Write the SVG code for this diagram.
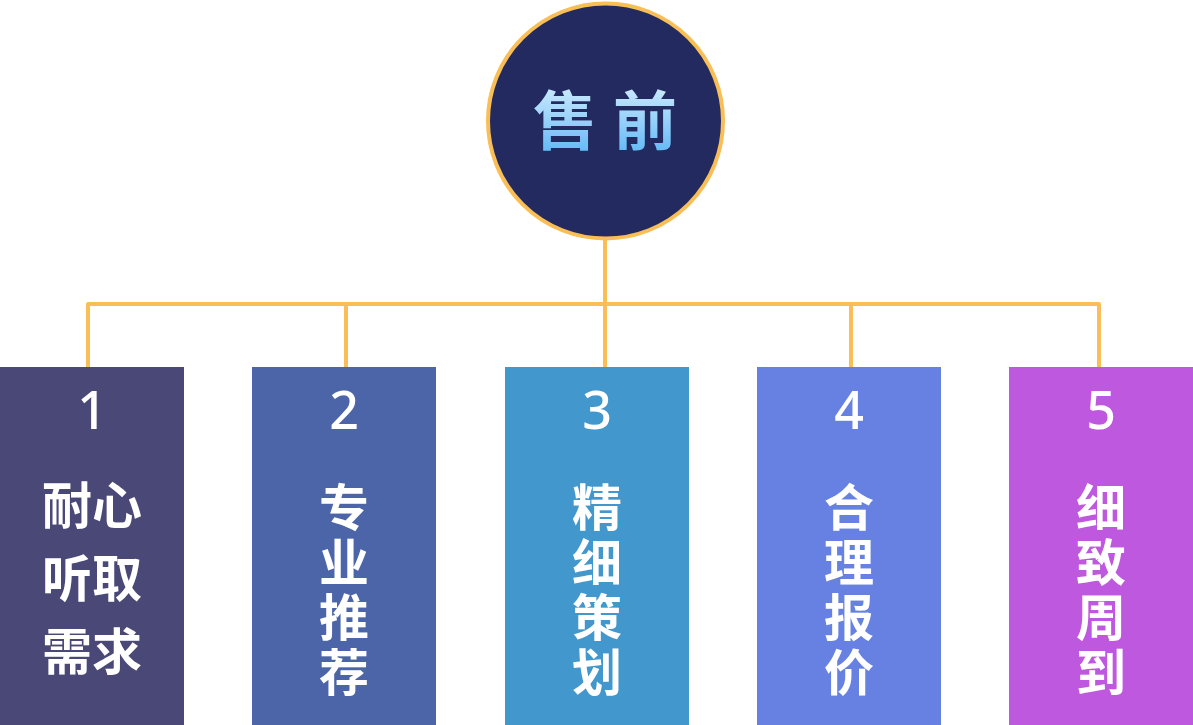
<svg xmlns="http://www.w3.org/2000/svg" width="1193" height="725" viewBox="0 0 1193 725">
  <defs>
    <linearGradient id="titleGrad" x1="0" y1="0" x2="0" y2="1">
      <stop offset="0" stop-color="#E6F6FF"/>
      <stop offset="1" stop-color="#55B2F6"/>
    </linearGradient>
    <style>
      .wire { fill: none; stroke: #F9BE55; stroke-width: 4; stroke-linejoin: round; stroke-linecap: round; }
      .num { font-family: "Noto Sans", "Liberation Sans", sans-serif; font-weight: 500; font-size: 52px; fill: #FFFFFF; text-anchor: middle; }
      .lbl { font-family: "Noto Sans CJK SC", "Noto Sans", sans-serif; font-weight: 700; font-size: 50px; fill: #FFFFFF; text-anchor: middle; }
      .col { font-family: "Noto Sans CJK SC", "Noto Sans", sans-serif; font-weight: 700; font-size: 50px; fill: #FFFFFF; writing-mode: vertical-rl; letter-spacing: 5px; }
      .title { font-family: "Noto Sans CJK SC", "Noto Sans", sans-serif; font-weight: 700; font-size: 64px; fill: url(#titleGrad); text-anchor: middle; }
    </style>
  </defs>

  <!-- connectors -->
  <g id="connectors">
    <path class="wire" d="M605,240 V367"/>
    <path class="wire" d="M88,367 V304 H1099 V367"/>
    <path class="wire" d="M346,304 V367"/>
    <path class="wire" d="M851,304 V367"/>
  </g>

  <!-- root -->
  <g id="root">
    <circle cx="605.5" cy="121" r="117.5" fill="#232A5F" stroke="#F9BE55" stroke-width="4"/>
    <text class="title" x="565" y="144">售</text>
    <text class="title" x="645" y="144">前</text>
  </g>

  <g id="node1">
    <rect x="0" y="367" width="184" height="358" fill="#4A4877"/>
    <text class="num" x="92" y="429">1</text>
    <text class="lbl" x="92" y="524">耐心</text>
    <text class="lbl" x="92" y="597">听取</text>
    <text class="lbl" x="92" y="670">需求</text>
  </g>

  <g id="node2">
    <rect x="252" y="367" width="184" height="358" fill="#4B65A8"/>
    <text class="num" x="344" y="429">2</text>
    <text class="col" x="344" y="482">专业推荐</text>
  </g>

  <g id="node3">
    <rect x="505" y="367" width="184" height="358" fill="#4297CC"/>
    <text class="num" x="597" y="429">3</text>
    <text class="col" x="597" y="482">精细策划</text>
  </g>

  <g id="node4">
    <rect x="757" y="367" width="184" height="358" fill="#6781E3"/>
    <text class="num" x="849" y="429">4</text>
    <text class="col" x="849" y="482">合理报价</text>
  </g>

  <g id="node5">
    <rect x="1009" y="367" width="184" height="358" fill="#BE58DE"/>
    <text class="num" x="1101" y="429">5</text>
    <text class="col" x="1101" y="482">细致周到</text>
  </g>
</svg>
